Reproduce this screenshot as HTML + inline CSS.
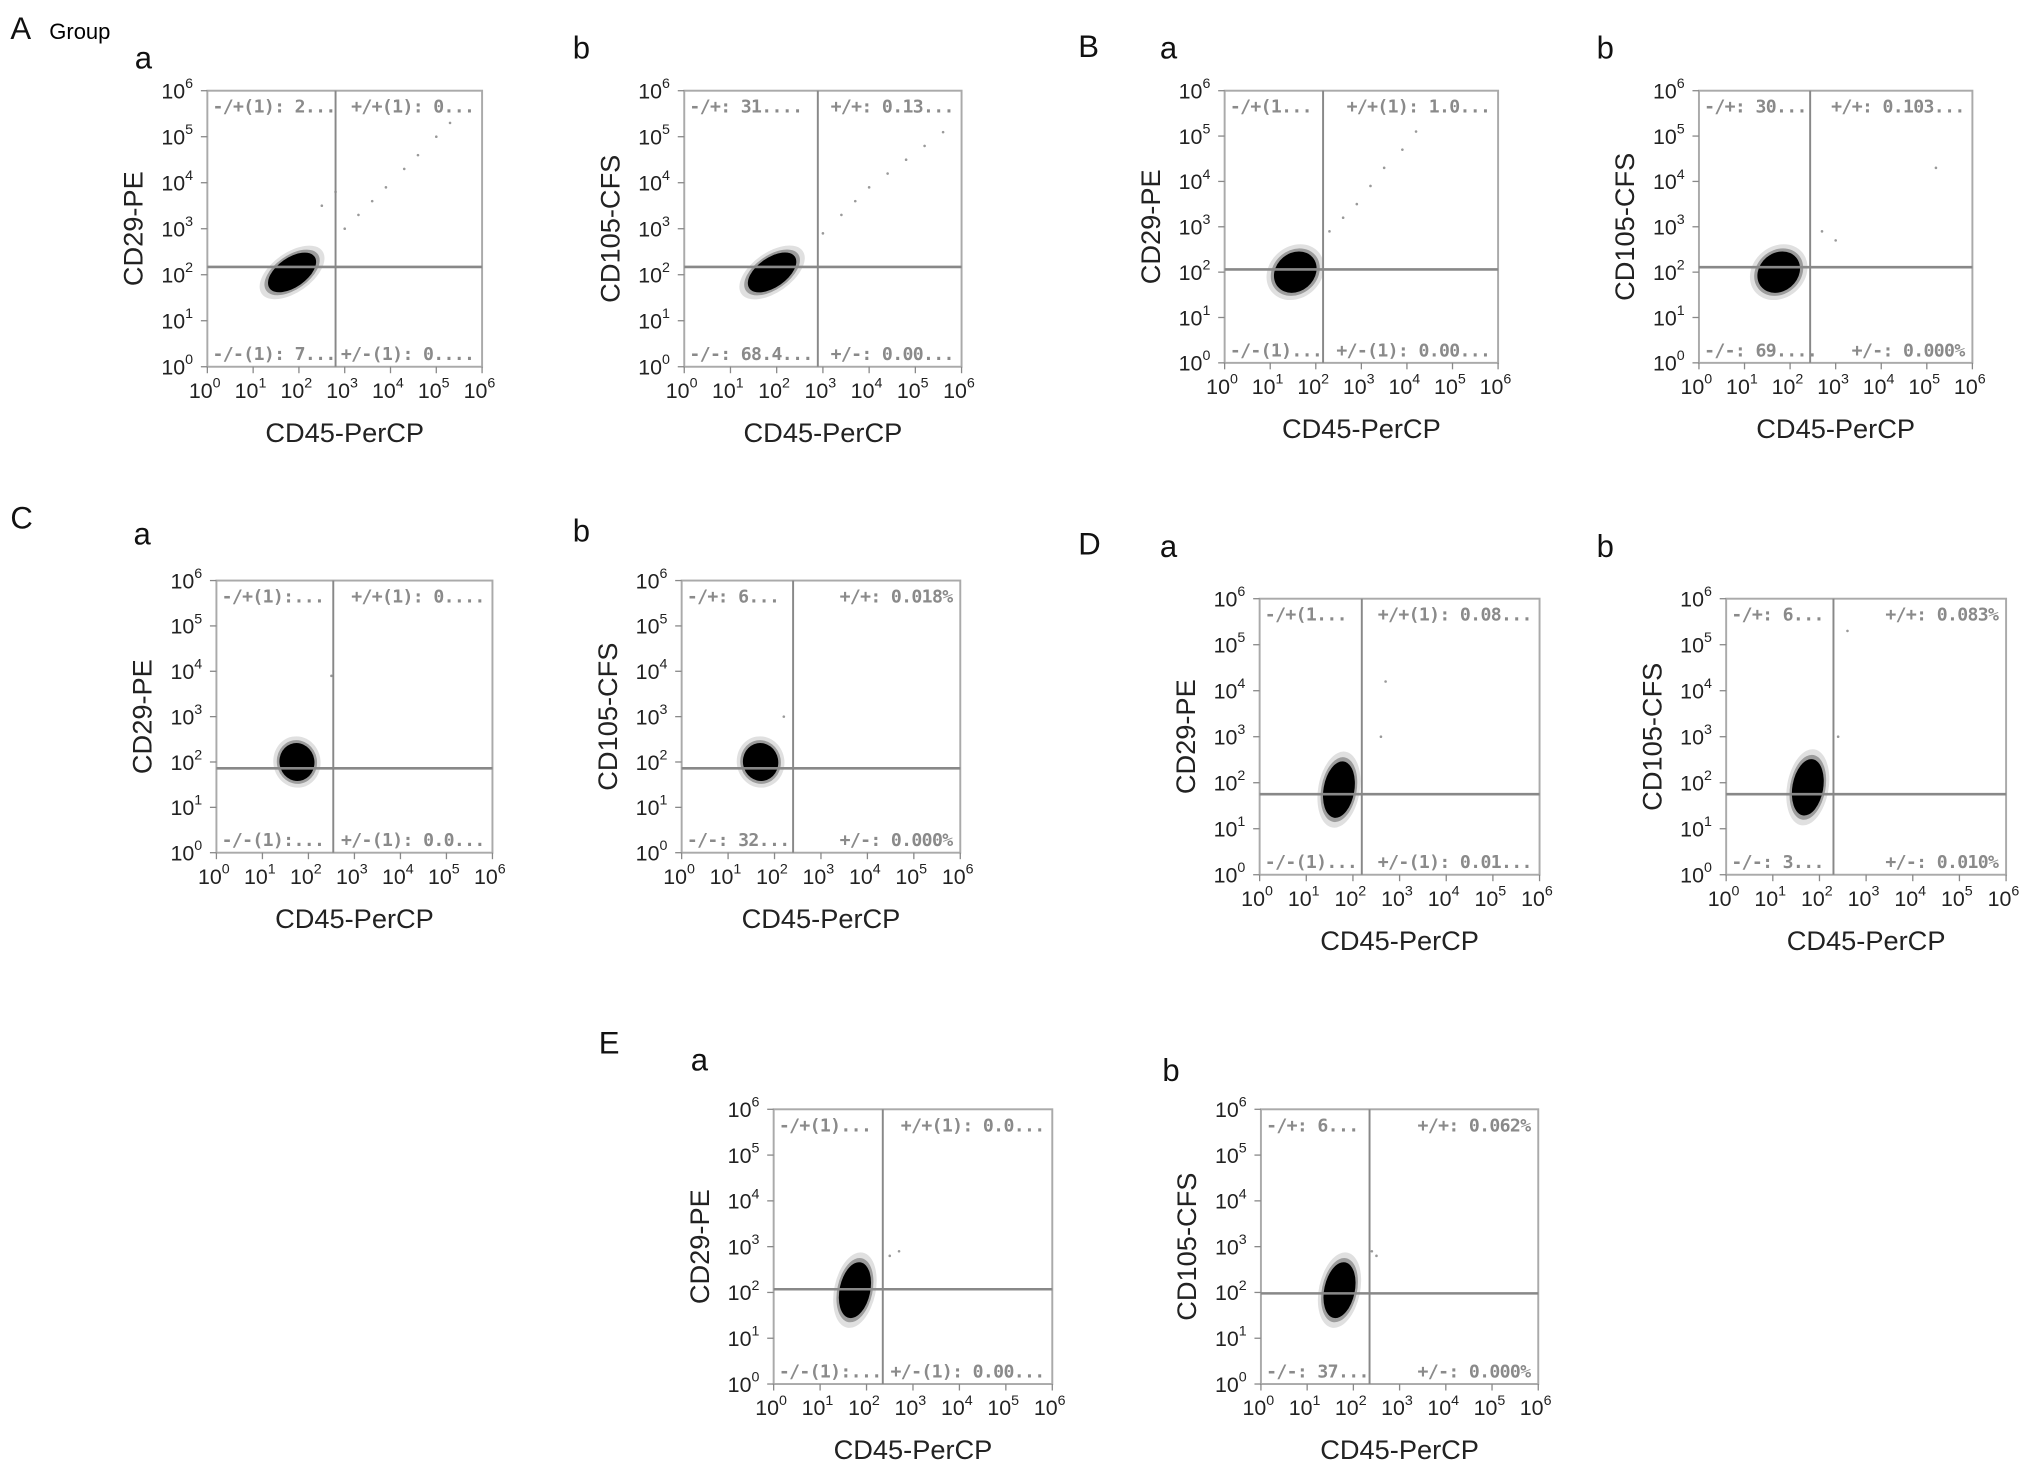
<!DOCTYPE html>
<html><head><meta charset="utf-8"><style>
html,body{margin:0;padding:0;background:#fff;}
svg{display:block;}
text{font-family:"Liberation Sans",sans-serif;}
.q{font-family:"DejaVu Sans Mono","Liberation Mono",monospace;font-weight:bold;font-size:14px;fill:#8a8a8a;letter-spacing:-0.5px;}
.tk{font-size:16.5px;fill:#222;}
.tt{font-size:21px;fill:#222;}
.lt{font-size:24px;fill:#111;}
</style></head><body>
<svg id="fig" width="2032" height="1468" viewBox="0 0 1568 1132.8" preserveAspectRatio="none" xmlns="http://www.w3.org/2000/svg">
<text class="lt" x="8" y="30">A</text>
<text x="38" y="30" font-size="17">Group</text>
<text class="lt" x="104" y="53">a</text>
<text class="lt" x="442" y="45">b</text>
<text class="lt" x="832" y="44">B</text>
<text class="lt" x="895" y="45">a</text>
<text class="lt" x="1232" y="45">b</text>
<text class="lt" x="8" y="408">C</text>
<text class="lt" x="103" y="420">a</text>
<text class="lt" x="442" y="418">b</text>
<text class="lt" x="832" y="428">D</text>
<text class="lt" x="895" y="430">a</text>
<text class="lt" x="1232" y="430">b</text>
<text class="lt" x="462" y="813">E</text>
<text class="lt" x="533" y="826">a</text>
<text class="lt" x="897" y="834">b</text>
<g id="plots"></g>
</svg>
<script>
// Per-panel data (log10 units)
const panelIds = ["Aa","Ab","Ba","Bb","Ca","Cb","Da","Db","Ea","Eb"];
const yTitles = ["CD29-PE","CD105-CFS","CD29-PE","CD105-CFS","CD29-PE","CD105-CFS","CD29-PE","CD105-CFS","CD29-PE","CD105-CFS"];
const gateX = [2.80,2.89,2.16,2.44,2.54,2.40,2.19,2.30,2.35,2.35];
const gateY = [2.17,2.17,2.06,2.11,1.86,1.86,1.75,1.75,2.07,1.98];
const clusterX = [1.85,1.9,1.55,1.75,1.75,1.7,1.7,1.75,1.75,1.7];
const clusterY = [2.05,2.05,2.0,2.0,2.0,2.0,1.85,1.9,2.05,2.05];
const spreadX = [0.6,0.6,0.5,0.5,0.38,0.38,0.33,0.33,0.33,0.33];
const spreadY = [0.32,0.32,0.42,0.42,0.42,0.42,0.62,0.62,0.62,0.62];
const tiltDeg = [-35,-35,-40,-40,-10,-10,10,10,12,12];
const labelUL = ["-/+(1): 2...","-/+: 31....","-/+(1...","-/+: 30...","-/+(1):...","-/+: 6...","-/+(1...","-/+: 6...","-/+(1)...","-/+: 6..."];
const labelUR = ["+/+(1): 0...","+/+: 0.13...","+/+(1): 1.0...","+/+: 0.103...","+/+(1): 0....","+/+: 0.018%","+/+(1): 0.08...","+/+: 0.083%","+/+(1): 0.0...","+/+: 0.062%"];
const labelLL = ["-/-(1): 7...","-/-: 68.4...","-/-(1)...","-/-: 69....","-/-(1):...","-/-: 32...","-/-(1)...","-/-: 3...","-/-(1):...","-/-: 37..."];
const labelLR = ["+/-(1): 0....","+/-: 0.00...","+/-(1): 0.00...","+/-: 0.000%","+/-(1): 0.0...","+/-: 0.000%","+/-(1): 0.01...","+/-: 0.010%","+/-(1): 0.00...","+/-: 0.000%"];
// outlier events (log x, log y)
const outX = [[3.0,3.3,3.6,3.9,4.3,4.6,5.0,5.3,2.5,2.8],[3.0,3.4,3.7,4.0,4.4,4.8,5.2,5.6],[2.3,2.6,2.9,3.2,3.5,3.9,4.2],[3.0,5.2,2.7],[2.5],[2.2],[2.6,2.7],[2.6,2.4],[2.5,2.7],[2.4,2.5]];
const outY = [[3.0,3.3,3.6,3.9,4.3,4.6,5.0,5.3,3.5,3.8],[2.9,3.3,3.6,3.9,4.2,4.5,4.8,5.1],[2.9,3.2,3.5,3.9,4.3,4.7,5.1],[2.7,4.3,2.9],[3.9],[3.0],[3.0,4.2],[5.3,3.0],[2.8,2.9],[2.9,2.8]];
// layout boxes (display units)
const boxL=[160,528,945,1311,167,526,972,1332,597,973];
const boxT=[70,70,70,70,448,448,462,462,856,856];
const boxR=[372,742,1156,1522,380,741,1188,1548,812,1187];
const boxB=[283,283,280,280,658,658,675,675,1068,1068];
const NS="http://www.w3.org/2000/svg";
const root=document.getElementById('plots');
function mk(tag,attrs,parent){const e=document.createElementNS(NS,tag);for(const k in attrs)e.setAttribute(k,attrs[k]);parent.appendChild(e);return e;}
panelIds.forEach((id,i)=>{
  const L=boxL[i],T=boxT[i],R=boxR[i],B=boxB[i];
  const sx=v=>L+(R-L)*v/6, sy=v=>B-(B-T)*v/6;
  const g=mk('g',{},root);
  
  
  const cx=sx(clusterX[i]),cy=sy(clusterY[i]);
  const rx=(R-L)*spreadX[i]/6, ry=(B-T)*spreadY[i]/6;
  [[1.35,0.12],[1.15,0.3],[1.0,1]].forEach(([f,o])=>{
    const e=mk('ellipse',{cx:cx,cy:cy,rx:rx*f,ry:ry*f,fill:'#000','fill-opacity':o,transform:`rotate(${tiltDeg[i]} ${cx} ${cy})`},g);
    
    
  });
  outX[i].forEach((x,j)=>{
    const p=mk('circle',{cx:sx(x),cy:sy(outY[i][j]),r:1,fill:'#999'},g);
    
    
  });
  const bx=mk('rect',{x:L,y:T,width:R-L,height:B-T,fill:'none',stroke:'#aaa','stroke-width':1.5},g);
  
  
  const gv=mk('line',{x1:sx(gateX[i]),x2:sx(gateX[i]),y1:T,y2:B,stroke:'#888','stroke-width':1.5},g);
  
  
  const gh=mk('line',{x1:L,x2:R,y1:sy(gateY[i]),y2:sy(gateY[i]),stroke:'#888','stroke-width':2},g);
  
  
  [[labelUL[i],L+4,T+17,'start'],[labelUR[i],R-6,T+17,'end'],[labelLL[i],L+4,B-5,'start'],[labelLR[i],R-6,B-5,'end']].forEach(([t,x,y,a])=>{
    const tx=mk('text',{x:x,y:y,'text-anchor':a,class:'q'},g);tx.textContent=t;
    
    
  });
  for(let d=0;d<=6;d++){
    mk('line',{x1:sx(d),x2:sx(d),y1:B,y2:B+5,stroke:'#888'},g);
    mk('line',{x1:L-5,x2:L,y1:sy(d),y2:sy(d),stroke:'#888'},g);
    const xt=mk('text',{x:sx(d)-2,y:B+24,'text-anchor':'middle',class:'tk'},g);
    xt.innerHTML='10<tspan dy="-8" font-size="11">'+d+'</tspan>';
    
    
    const yt=mk('text',{x:L-11,y:sy(d)+6,'text-anchor':'end',class:'tk'},g);
    yt.innerHTML='10<tspan dy="-8" font-size="11">'+d+'</tspan>';
    
    
  }
  const xa=mk('text',{x:(L+R)/2,y:B+58,'text-anchor':'middle',class:'tt'},g);xa.textContent='CD45-PerCP';
  
  
  const yc=(T+B)/2;
  const ya=mk('text',{x:L-50,y:yc,'text-anchor':'middle',class:'tt',transform:`rotate(-90 ${L-50} ${yc})`},g);ya.textContent=yTitles[i];
  
  
});
</script>
</body></html>
